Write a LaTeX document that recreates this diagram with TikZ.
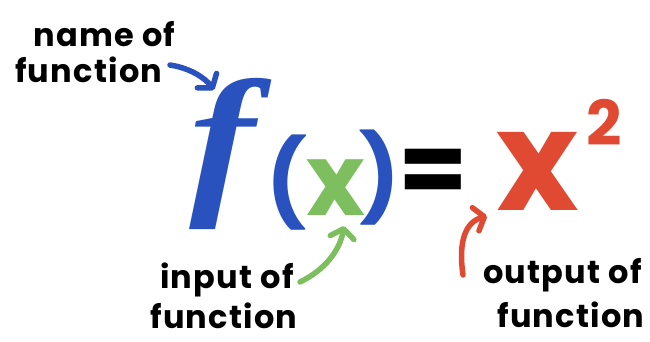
\documentclass[tikz,border=0pt]{standalone}
\usepackage{fontspec}
\setmainfont{Poppins}
\newfontfamily\serifff{Liberation Serif}
\usetikzlibrary{arrows.meta}
\definecolor{fblue}{HTML}{2A52BE}
\definecolor{fgreen}{HTML}{7DBF5E}
\definecolor{fred}{HTML}{E04A33}
\tikzset{
  lbl/.style={font=\bfseries\fontsize{32}{32}\selectfont\addfontfeature{LetterSpace=4}, inner sep=0pt, anchor=base west},
  glyph/.style={inner sep=0pt, anchor=center},
  pointer/.style={line width=5.5pt, line cap=round, line join=round,
    -{Straight Barb[round, length=9pt, width=24pt]}},
}
\begin{document}
\begin{tikzpicture}[x=1pt,y=-1pt]
\path[use as bounding box, fill=white] (0,0) rectangle (650,341);
% labels
\node[lbl] (name1) at (33,46) {name of};
\node[lbl] (name2) at (15,82) {function};
\node[lbl] (in1) at (160,288) {input of};
\node[lbl] (in2) at (150,328) {function};
\node[lbl] (out1) at (483,283) {output of};
\node[lbl] (out2) at (497,327) {function};
% formula
\node[glyph, text=fblue, font=\serifff\bfseries\itshape\fontsize{165}{165}\selectfont] (fn) at (222,154) {\scalebox{1.2}[1]{f}};
\node[glyph, text=fblue, font=\bfseries\fontsize{85}{85}\selectfont] (lp) at (287,183) {(};
\node[glyph, text=fgreen, font=\bfseries\fontsize{100}{100}\selectfont] (xin) at (336,188) {x};
\node[glyph, text=fblue, font=\bfseries\fontsize{85}{85}\selectfont] (rp) at (380,178) {)};
\node[glyph, text=black, font=\bfseries\fontsize{100}{100}\selectfont] (eq) at (433,177) {=};
\node[glyph, text=fred, font=\bfseries\fontsize{140}{140}\selectfont] (xout) at (538,171) {x};
\node[glyph, text=fred, font=\bfseries\fontsize{62}{62}\selectfont] (sq) at (604,122) {2};
% pointers
\coordinate (b0) at (170,65);
\coordinate (b1) at (214,90);
\coordinate (g0) at (300,282);
\coordinate (g1) at (344,226);
\coordinate (r0) at (463,275);
\coordinate (r1) at (487,216);
\draw[pointer, fblue] (b0) .. controls (190,68) and (205,78) .. (b1);
\draw[pointer, fgreen] (g0) .. controls (325,270) and (340,250) .. (g1);
\draw[pointer, fred] (r0) .. controls (458,240) and (466,222) .. (r1);
\end{tikzpicture}
\end{document}
